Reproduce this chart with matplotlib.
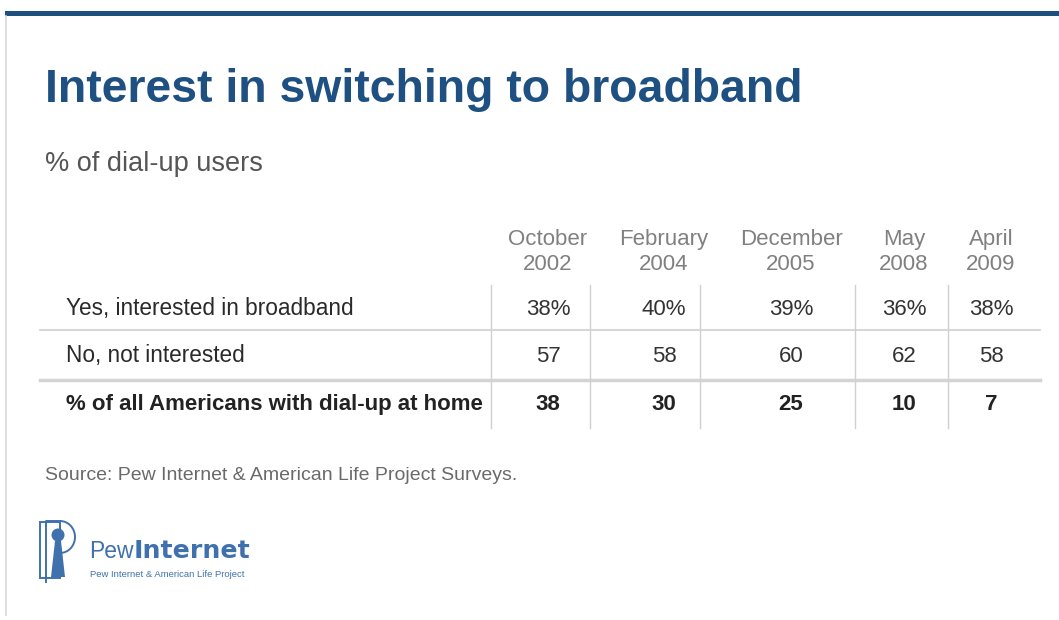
import matplotlib
matplotlib.use("Agg")
import matplotlib.pyplot as plt
from matplotlib.patches import Rectangle, Circle, Polygon, Arc

W, H = 1059, 620
title = "Interest in switching to broadband"
subtitle = "% of dial-up users"
source = "Source: Pew Internet & American Life Project Surveys."
col_headers = ["October\n2002", "February\n2004", "December\n2005", "May\n2008", "April\n2009"]
row_labels = ["Yes, interested in broadband", "No, not interested",
              "% of all Americans with dial-up at home"]
yes_vals = ["38%", "40%", "39%", "36%", "38%"]
no_vals = ["57", "58", "60", "62", "58"]
dialup_vals = ["38", "30", "25", "10", "7"]

FONT = "Liberation Sans"
fig = plt.figure(figsize=(W / 100, H / 100), dpi=100)
fig.patch.set_facecolor("white")
ax = fig.add_axes([0, 0, 1, 1])
ax.set_xlim(0, W)
ax.set_ylim(H, 0)
ax.axis("off")

# frame
ax.add_patch(Rectangle((5, 11), W - 5, 5, color="#1d4f7f", lw=0))
ax.plot([5.5, 5.5], [16, 615], color="#d8d8d8", lw=1.2)

ax.text(45, 102, title, fontsize=33.4, fontweight="bold", color="#1f5082",
        family=FONT, va="baseline", ha="left")
ax.text(45, 171, subtitle, fontsize=19.5, color="#555555", family=FONT,
        va="baseline", ha="left")

FS = 16
col_x = [548, 664, 791, 904, 991]
for x, h in zip(col_x, col_headers):
    l1, l2 = h.split("\n")
    ax.text(x, 245, l1, fontsize=FS, color="#808080", family=FONT, ha="center", va="baseline")
    ax.text(x, 270, l2, fontsize=FS, color="#808080", family=FONT, ha="center", va="baseline")

row_y = [315, 362, 410]
rows = [yes_vals, no_vals, dialup_vals]
for i, (lab, vals, y) in enumerate(zip(row_labels, rows, row_y)):
    bold = i == 2
    ax.text(66, y, lab, fontsize=FS if bold else 16.3, color="#222222" if bold else "#2a2a2a",
            family=FONT, fontweight="bold" if bold else "normal", ha="left", va="baseline")
    for x, v in zip(col_x, vals):
        ax.text(x, y, v, fontsize=FS, color="#222222" if bold else "#333333",
                family=FONT, fontweight="bold" if bold else "normal", ha="center", va="baseline")

# grid lines
ax.plot([40, 1040], [329.5, 329.5], color="#d0d0d0", lw=1.2)
ax.plot([40, 1040], [379.5, 379.5], color="#d4d4d4", lw=2.5)
for vx in [491, 590, 700, 855, 948]:
    ax.plot([vx, vx], [285, 428], color="#d0d0d0", lw=1)

ax.text(45, 480, source, fontsize=14, color="#6a6a6a", family=FONT, ha="left", va="baseline")

# logo
blue = "#3f72ad"
ax.add_patch(Rectangle((40, 522), 20, 56, fill=False, ec=blue, lw=1.4))
ax.plot([46, 46, 60], [582, 521, 521], color=blue, lw=1.4)
ax.add_patch(Arc((60, 537), 30, 32, theta1=-90, theta2=90, ec=blue, lw=1.4))
ax.add_patch(Circle((58, 535), 6.5, color=blue, lw=0))
ax.add_patch(Polygon([[55, 541], [61, 541], [65, 577], [51, 577]], closed=True, color=blue, lw=0))
ax.text(89, 558, "Pew", fontsize=16.5, color=blue, family=FONT, ha="left", va="baseline")
ax.text(134, 558, "Internet", fontsize=18.2, color=blue, family="DejaVu Sans", fontweight="bold",
        ha="left", va="baseline")
ax.text(90, 577, "Pew Internet & American Life Project", fontsize=6.8, color=blue,
        family=FONT, ha="left", va="baseline")

fig.savefig("out.png", dpi=100, facecolor="white")
